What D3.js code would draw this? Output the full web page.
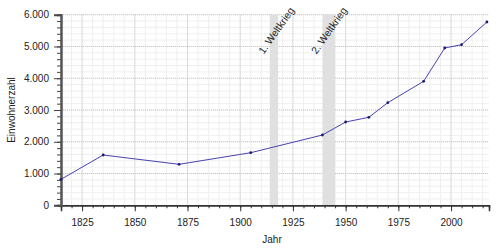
<!DOCTYPE html>
<html><head><meta charset="utf-8">
<script src="https://cdn.jsdelivr.net/npm/d3@7"></script>
<style>body{margin:0;background:#fff}text{font-family:"Liberation Sans",Arial,sans-serif}</style>
</head><body><svg id="c" width="500" height="250"></svg>
<script>
const years = [1815, 1835, 1871, 1905, 1939, 1950, 1961, 1970, 1987, 1997, 2005, 2017];
const population = [818, 1583, 1290, 1656, 2213, 2622, 2770, 3230, 3903, 4952, 5056, 5770];
const xTicks = [1825, 1850, 1875, 1900, 1925, 1950, 1975, 2000];
const yTicks = [0, 1000, 2000, 3000, 4000, 5000, 6000];
const yTickLabels = ["0", "1.000", "2.000", "3.000", "4.000", "5.000", "6.000"];
const wars = [{label: "1. Weltkrieg", from: 1914, to: 1918}, {label: "2. Weltkrieg", from: 1939, to: 1945}];

const svg = d3.select("#c");
const L = 61, R = 489, T = 14.7, B = 205.3;
const x = d3.scaleLinear().domain([1815, 2018]).range([L, R]);
const y = d3.scaleLinear().domain([0, 6000]).range([B, T]);

// minor grid
const minorX = d3.range(1815, 2019, 5);
const minorY = d3.range(0, 6001, 200);
svg.append("g").selectAll("line").data(minorX).join("line")
  .attr("x1", d => x(d)).attr("x2", d => x(d)).attr("y1", T).attr("y2", B)
  .attr("stroke", "#efefef").attr("stroke-width", 1);
svg.append("g").selectAll("line").data(minorY).join("line")
  .attr("y1", d => y(d)).attr("y2", d => y(d)).attr("x1", L).attr("x2", R)
  .attr("stroke", "#efefef").attr("stroke-width", 1);
// major grid
svg.append("g").selectAll("line").data(xTicks).join("line")
  .attr("x1", d => x(d)).attr("x2", d => x(d)).attr("y1", T).attr("y2", B)
  .attr("stroke", "#c8c8c8").attr("stroke-width", 1).attr("stroke-dasharray", "1,1");
svg.append("g").selectAll("line").data(yTicks.slice(1)).join("line")
  .attr("y1", d => y(d)).attr("y2", d => y(d)).attr("x1", L).attr("x2", R)
  .attr("stroke", "#c8c8c8").attr("stroke-width", 1).attr("stroke-dasharray", "1,1");

// war bands
svg.append("g").selectAll("rect").data(wars).join("rect")
  .attr("x", d => x(d.from)).attr("width", d => x(d.to) - x(d.from))
  .attr("y", T).attr("height", B - T).attr("fill", "#e0e0e0");
svg.append("g").selectAll("text").data(wars).join("text")
  .attr("transform", d => `translate(${x(d.from) - 6},${T + 40}) rotate(-55)`)
  .attr("font-size", 10.3).attr("fill", "#222").text(d => d.label);

// axes
const ax = svg.append("g").attr("transform", `translate(0,${B})`);
ax.call(d3.axisBottom(x).tickValues(minorX).tickSize(3).tickFormat(""));
ax.call(g => g.append("g").call(d3.axisBottom(x).tickValues(xTicks).tickSize(6).tickPadding(8).tickFormat(d3.format("d"))));
ax.selectAll(".domain").attr("stroke", "#333").attr("stroke-width", 1.5);
ax.selectAll("line").attr("stroke", "#333");
ax.selectAll("text").attr("font-size", 10).attr("fill", "#222").attr("font-family", "Liberation Sans, Arial, sans-serif");

const ay = svg.append("g").attr("transform", `translate(${L},0)`);
ay.call(d3.axisLeft(y).tickValues(minorY).tickSize(4).tickFormat(""));
ay.call(g => g.append("g").call(d3.axisLeft(y).tickValues(yTicks).tickSize(7).tickPadding(5).tickFormat((d, i) => yTickLabels[i])));
ay.selectAll(".domain").attr("stroke", "#555").attr("stroke-width", 2);
ay.selectAll("line").attr("stroke", "#444");
ay.selectAll("text").attr("font-size", 10).attr("fill", "#222").attr("font-family", "Liberation Sans, Arial, sans-serif");

// line
const line = d3.line().x((d, i) => x(years[i])).y(d => y(d));
svg.append("path").datum(population).attr("d", line)
  .attr("fill", "none").attr("stroke", "#4a42b0").attr("stroke-width", 1);
svg.append("g").selectAll("circle").data(population).join("circle")
  .attr("cx", (d, i) => x(years[i])).attr("cy", d => y(d)).attr("r", 1.4).attr("fill", "#1a1a70");

// labels
svg.append("text").attr("transform", `translate(15,${(T + B) / 2}) rotate(-90)`)
  .attr("text-anchor", "middle").attr("font-size", 10).attr("fill", "#222").text("Einwohnerzahl");
svg.append("text").attr("x", 272).attr("y", 243).attr("text-anchor", "middle")
  .attr("font-size", 10).attr("fill", "#222").text("Jahr");
</script></body></html>
